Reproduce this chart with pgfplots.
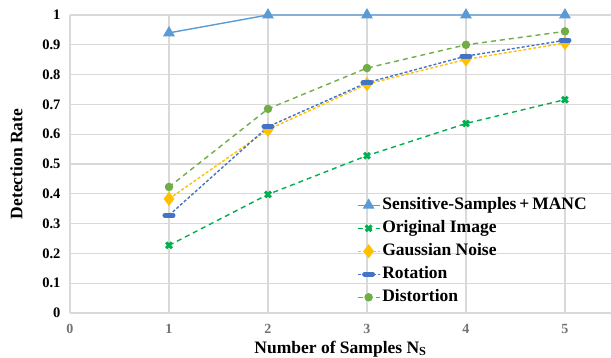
\documentclass[border=0pt]{standalone}
\usepackage{pgfplots}
\pgfplotsset{compat=1.18}
\usepackage{fontspec}
\setmainfont{Liberation Serif}
\definecolor{cSS}{HTML}{5B9BD5}
\definecolor{cOI}{HTML}{00B050}
\definecolor{cGN}{HTML}{FFC000}
\definecolor{cRO}{HTML}{4472C4}
\definecolor{cDI}{HTML}{70AD47}
\definecolor{gridc}{HTML}{D9D9D9}
\begin{document}
\begin{tikzpicture}[x=1pt,y=1pt]
\begin{axis}[
  scale only axis,
  width=541pt, height=298pt,
  xmin=0, xmax=5.465, ymin=0, ymax=1,
  xtick={0,1,2,3,4,5},
  ytick={0,0.1,0.2,0.3,0.4,0.5,0.6,0.7,0.8,0.9,1},
  yticklabels={0,0.1,0.2,0.3,0.4,0.5,0.6,0.7,0.8,0.9,1},
  xticklabels={0,1,2,3,4,5},
  grid=major,
  grid style={gridc, line width=1.1pt},
  axis line style={draw=none},
  major tick length=0pt,
  clip=false,
  xticklabel style={font=\fontsize{14}{16}\selectfont\bfseries, text=black!55, yshift=-8pt},
  yticklabel style={font=\fontsize{14.5}{16}\selectfont\bfseries, xshift=-6pt},
  /pgf/number format/assume math mode=true,
  xlabel={\textbf{Number of Samples N\textsubscript{S}}},
  ylabel={\textbf{Detection Rate}},
  label style={font=\fontsize{17.5}{19}\selectfont},
  xlabel style={yshift=0pt},
  ylabel style={yshift=13pt},
  legend style={draw=none, fill=none, at={(rel axis cs:0.530,0.389)}, anchor=north west,
    font=\fontsize{17.5}{19}\selectfont\bfseries, row sep=7pt, inner sep=0pt,
    nodes={inner ysep=0pt, inner xsep=2pt, text height=12pt, text depth=4pt},
    /tikz/every even column/.append style={column sep=0pt}},
  legend cell align=left,
  legend image code/.code={\draw[mark repeat=2,mark phase=2] plot coordinates {(0pt,0pt)(11pt,0pt)(22pt,0pt)};},
]
\coordinate (bl) at (rel axis cs:0,0);
\addplot[color=cSS, line width=1.4pt, mark=triangle*, mark size=5.5pt, mark options={solid}]
  coordinates {(1,0.94) (2,1) (3,1) (4,1) (5,1)};
\addlegendentry{Sensitive-Samples\,+\,MANC}
\addplot[color=cOI, line width=1.4pt, dash pattern=on 5pt off 4pt, mark=x, mark size=4pt, mark options={solid, line width=3pt}]
  coordinates {(1,0.227) (2,0.398) (3,0.528) (4,0.636) (5,0.716)};
\addlegendentry{Original Image}
\addplot[color=cGN, line width=1.4pt, dash pattern=on 3pt off 2pt, mark=diamond*, mark size=6pt, mark options={solid}]
  coordinates {(1,0.383) (2,0.615) (3,0.768) (4,0.851) (5,0.906)};
\addlegendentry{Gaussian Noise}
\addplot[color=cRO, line width=1.4pt, dash pattern=on 3pt off 2pt, mark=-, mark size=4pt, mark options={solid, line width=5pt, line cap=round}]
  coordinates {(1,0.328) (2,0.625) (3,0.773) (4,0.862) (5,0.915)};
\addlegendentry{Rotation}
\addplot[color=cDI, line width=1.4pt, dash pattern=on 5pt off 4pt, mark=*, mark size=3.5pt, mark options={solid}]
  coordinates {(1,0.423) (2,0.685) (3,0.822) (4,0.900) (5,0.945)};
\addlegendentry{Distortion}
\end{axis}
\pgfresetboundingbox
\path (bl) ++(-70pt,-45pt) rectangle ++(611pt,358pt);
\end{tikzpicture}
\end{document}
